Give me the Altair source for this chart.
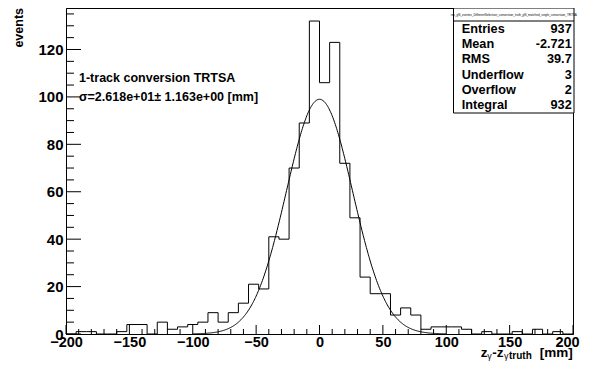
import altair as alt
import pandas as pd

# ---------------- data ----------------
bin_low = list(range(-200, 200, 8))
counts = [0, 1, 1, 0, 0, 1, 4, 4, 0, 5,
          2, 3, 4, 5, 9, 5, 9, 13, 21, 19,
          41, 40, 70, 89, 132, 106, 123, 72, 49, 24,
          17, 17, 8, 11, 8, 2, 3, 3, 3, 2,
          0, 1, 0, 0, 1, 0, 2, 0, 1, 0]
x_major = [-200, -150, -100, -50, 0, 50, 100, 150, 200]
x_minor = [v for v in range(-200, 201, 10) if v % 50 != 0]
y_major = [0, 20, 40, 60, 80, 100, 120]
y_minor = [v for v in range(0, 136, 5) if v % 20 != 0]
fit_const = 99.0
fit_mean = 0.0
fit_sigma = 26.18
stat_labels = ["Entries", "Mean", "RMS", "Underflow", "Overflow", "Integral"]
stat_values = ["937", "-2.721", "39.7", "3", "2", "932"]
stat_title = "res_gN_zvertex_DifferentSelection_conversion_truth_gN_matched_single_conversion_TRTSA"
label_line1 = "1-track conversion TRTSA"
label_line2 = "σ=2.618e+01± 1.163e+00 [mm]"

W, H = 507, 326
FONT = "Liberation Sans"

hist_df = pd.DataFrame({"x": bin_low + [200], "n": counts + [counts[-1]]})

xs = alt.Scale(domain=[-200, 200], nice=False, zero=False)
ys = alt.Scale(domain=[0, 137.5], nice=False, zero=False)

x_axis = alt.Axis(values=x_major, format="d", ticks=False, grid=False, title=None,
                  labelFont=FONT, labelFontWeight="bold", labelFontSize=14.5,
                  labelColor="black", labelPadding=1, labelFlush=False,
                  labelOffset={"expr": "datum.value == 200 ? -6 : 0"},
                  labelOverlap=False, domainColor="black", domainWidth=1)
y_axis = alt.Axis(values=y_major, format="d", ticks=False, grid=False, title=None,
                  labelFont=FONT, labelFontWeight="bold", labelFontSize=15,
                  labelColor="black", labelPadding=3, labelFlush=False,
                  labelOverlap=False, domainColor="black", domainWidth=1)

hist = alt.Chart(hist_df).mark_line(interpolate="step-after", color="black",
                                    strokeWidth=1).encode(
    x=alt.X("x:Q", scale=xs, axis=x_axis),
    y=alt.Y("n:Q", scale=ys, axis=y_axis),
)

fit = alt.Chart(alt.sequence(-100, 100.5, 0.5, as_="x")).transform_calculate(
    g=f"{fit_const}*exp(-0.5*pow((datum.x-({fit_mean}))/{fit_sigma},2))"
).mark_line(color="black", strokeWidth=1).encode(
    x=alt.X("x:Q", scale=xs), y=alt.Y("g:Q", scale=ys))

xmaj = alt.Chart(pd.DataFrame({"v": x_major})).mark_rule(color="black").encode(
    x=alt.X("v:Q", scale=xs), y=alt.value(H), y2=alt.value(H - 9))
xmin = alt.Chart(pd.DataFrame({"v": x_minor})).mark_rule(color="black").encode(
    x=alt.X("v:Q", scale=xs), y=alt.value(H), y2=alt.value(H - 5))
ymaj = alt.Chart(pd.DataFrame({"v": y_major})).mark_rule(color="black").encode(
    y=alt.Y("v:Q", scale=ys), x=alt.value(0), x2=alt.value(15))
ymin = alt.Chart(pd.DataFrame({"v": y_minor})).mark_rule(color="black").encode(
    y=alt.Y("v:Q", scale=ys), x=alt.value(0), x2=alt.value(8))

# annotation text
def txt(s, x, y, size=12.5, align="left", baseline="middle", angle=0, weight="bold"):
    return alt.Chart(pd.DataFrame({"t": [s]})).mark_text(
        align=align, baseline=baseline, font=FONT, fontSize=size,
        fontWeight=weight, color="black", angle=angle
    ).encode(text="t:N", x=alt.value(x), y=alt.value(y))

ann = [txt(label_line1, 13, 70), txt(label_line2, 13, 89.3)]

# y title
ann.append(txt("events", -47, 0, size=12.5, align="right", angle=270))

# x title pieces
ann += [
    txt("z", 414.7, 349, size=13.5, baseline="alphabetic"),
    txt("γ", 421.3, 350.5, size=9, baseline="alphabetic", weight="normal"),
    txt("-z", 426.3, 349, size=13.5, baseline="alphabetic"),
    txt("γ", 438, 350.5, size=9, baseline="alphabetic", weight="normal"),
    txt("truth", 443, 350.5, size=10, baseline="alphabetic"),
    txt("[mm]", 506.7, 349, size=13.5, align="right", baseline="alphabetic"),
]

# stats box
box_l, box_r, box_b, sep = 387.5, 508, 105, 13
box = alt.Chart(pd.DataFrame({"a": [0]})).mark_rect(
    fill="white", stroke="black", strokeWidth=1).encode(
    x=alt.value(box_l), x2=alt.value(box_r), y=alt.value(0), y2=alt.value(box_b))
sepline = alt.Chart(pd.DataFrame({"a": [0]})).mark_rule(color="black").encode(
    x=alt.value(box_l), x2=alt.value(box_r), y=alt.value(sep))
ann += [box, sepline, txt(stat_title, (box_l + box_r) / 2, 6.5, size=3,
                          align="center", weight="normal")]
step = (box_b - sep) / len(stat_labels)
for i, (lab, val) in enumerate(zip(stat_labels, stat_values)):
    yc = sep + step * (i + 0.5)
    ann.append(txt(lab, 395.7, yc, size=12.7))
    ann.append(txt(val, 505.7, yc, size=12.7, align="right"))

chart = alt.layer(hist, fit, xmaj, xmin, ymaj, ymin, *ann).properties(
    width=W, height=H,
    autosize=alt.AutoSizeParams(type="none"),
    padding={"left": 58, "top": 0, "right": 9, "bottom": 27},
    background="white",
).configure_view(stroke="black", strokeWidth=1)

chart.save("out.html", embed_options={"renderer": "svg", "actions": False})
